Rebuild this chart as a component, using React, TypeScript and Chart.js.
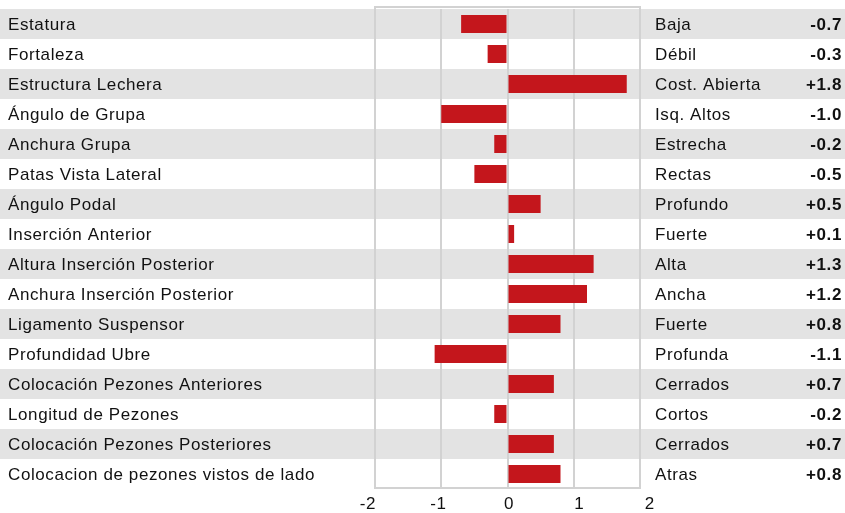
import React, { useEffect, useRef } from "react";
import { Chart, registerables } from "chart.js";

Chart.register(...registerables);

const categories = [
  "Estatura",
  "Fortaleza",
  "Estructura Lechera",
  "Ángulo de Grupa",
  "Anchura Grupa",
  "Patas Vista Lateral",
  "Ángulo Podal",
  "Inserción Anterior",
  "Altura Inserción Posterior",
  "Anchura Inserción Posterior",
  "Ligamento Suspensor",
  "Profundidad Ubre",
  "Colocación Pezones Anteriores",
  "Longitud de Pezones",
  "Colocación Pezones Posteriores",
  "Colocacion de pezones vistos de lado",
];

const directions = [
  "Baja",
  "Débil",
  "Cost. Abierta",
  "Isq. Altos",
  "Estrecha",
  "Rectas",
  "Profundo",
  "Fuerte",
  "Alta",
  "Ancha",
  "Fuerte",
  "Profunda",
  "Cerrados",
  "Cortos",
  "Cerrados",
  "Atras",
];

const values = [-0.7, -0.3, 1.8, -1.0, -0.2, -0.5, 0.5, 0.1, 1.3, 1.2, 0.8, -1.1, 0.7, -0.2, 0.7, 0.8];

const tickValues = [-2, -1, 0, 1, 2];

const FONT = '"Liberation Sans", Arial, Helvetica, sans-serif';
const TEXT = "#111111";
const STRIPE = "#e3e3e3";
const GRID = "#d2d2d2";
const BAR = "#c4161c";
const SPACING = "0.6px";

const fmt = (v: number) => (v > 0 ? "+" + v.toFixed(1) : v.toFixed(1));

const tablePlugin = {
  id: "tablePlugin",
  beforeDraw(chart: any) {
    const { ctx, chartArea, scales } = chart;
    const y = scales.y;
    const n = categories.length;
    const band = (chartArea.bottom - chartArea.top) / n;
    ctx.save();
    ctx.fillStyle = STRIPE;
    for (let i = 0; i < n; i += 2) {
      const c = y.getPixelForValue(i);
      ctx.fillRect(0, c - band / 2, chart.width, band);
    }
    ctx.restore();
    (ctx as any).letterSpacing = SPACING;
  },
  beforeDatasetsDraw(chart: any) {
    const { ctx, chartArea } = chart;
    ctx.save();
    ctx.strokeStyle = GRID;
    ctx.lineWidth = 2;
    ctx.strokeRect(chartArea.left, chartArea.top - 2, chartArea.right - chartArea.left, chartArea.bottom - chartArea.top + 1);
    ctx.restore();
  },
  afterDraw(chart: any) {
    const { ctx, chartArea, scales } = chart;
    const y = scales.y;
    ctx.save();
    (ctx as any).letterSpacing = SPACING;
    ctx.fillStyle = TEXT;
    ctx.textBaseline = "middle";
    for (let i = 0; i < categories.length; i++) {
      const c = y.getPixelForValue(i) + 1;
      ctx.font = `17px ${FONT}`;
      ctx.textAlign = "left";
      ctx.fillText(categories[i], 8, c);
      ctx.fillText(directions[i], chartArea.right + 15, c);
      ctx.font = `bold 17px ${FONT}`;
      ctx.textAlign = "right";
      ctx.fillText(fmt(values[i]), chart.width - 3, c);
    }
    ctx.restore();
  },
};

export default function App() {
  const ref = useRef<HTMLCanvasElement | null>(null);

  useEffect(() => {
    document.body.style.margin = "0";
    const canvas = ref.current;
    if (!canvas) return;
    const chart = new Chart(canvas, {
      type: "bar",
      data: {
        labels: categories,
        datasets: [
          {
            data: values,
            backgroundColor: BAR,
            borderWidth: 0,
            categoryPercentage: 1,
            barPercentage: 0.6,
          },
        ],
      },
      options: {
        indexAxis: "y",
        animation: false,
        responsive: false,
        devicePixelRatio: 1,
        layout: { padding: { left: 375, right: 205, top: 9, bottom: 0 } },
        plugins: { legend: { display: false }, tooltip: { enabled: false } },
        scales: {
          y: { display: false },
          x: {
            type: "linear",
            position: "bottom",
            min: -2,
            max: 2,
            ticks: { display: false, stepSize: 1 },
            grid: { color: GRID, lineWidth: 2, drawTicks: false },
            border: { display: false },
            afterFit: (s: any) => {
              s.height = 0;
            },
          },
          x2: {
            type: "linear",
            position: "bottom",
            min: -1.9,
            max: 1.86,
            grid: { display: false, drawTicks: false },
            border: { display: false },
            ticks: {
              autoSkip: false,
              maxRotation: 0,
              padding: 5,
              color: TEXT,
              font: { family: FONT, size: 17 },
              callback: (v: any) => String(v),
            },
            afterBuildTicks: (s: any) => {
              s.ticks = tickValues.map((v) => ({ value: v }));
            },
            afterFit: (s: any) => {
              s.height = 24;
            },
          },
        },
      },
      plugins: [tablePlugin],
    });
    return () => chart.destroy();
  }, []);

  return (
    <div style={{ width: 845, height: 513 }}>
      <canvas ref={ref} width={845} height={513} style={{ display: "block" }} />
    </div>
  );
}
